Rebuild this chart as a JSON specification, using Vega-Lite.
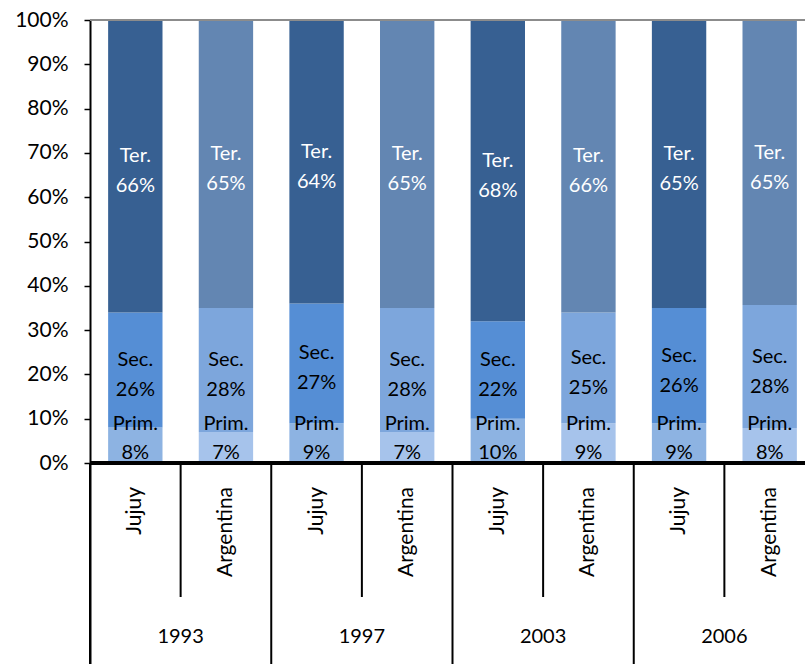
{
  "$schema": "https://vega.github.io/schema/vega-lite/v6.json",
  "autosize": "none",
  "padding": {"left": 90, "top": 20, "right": 0, "bottom": 0},
  "background": "white",
  "width": 715,
  "height": 644,
  "config": {"view": {"stroke": null}, "font": "Lato"},
  "data": {"values": [
    {"year": "1993", "region": "Jujuy", "cat": "1993 Jujuy", "sector": "Prim.", "value": 8, "lab": "Prim.\n8%"},
    {"year": "1993", "region": "Jujuy", "cat": "1993 Jujuy", "sector": "Sec.", "value": 26, "lab": "Sec.\n26%"},
    {"year": "1993", "region": "Jujuy", "cat": "1993 Jujuy", "sector": "Ter.", "value": 66, "lab": "Ter.\n66%"},
    {"year": "1993", "region": "Argentina", "cat": "1993 Argentina", "sector": "Prim.", "value": 7, "lab": "Prim.\n7%"},
    {"year": "1993", "region": "Argentina", "cat": "1993 Argentina", "sector": "Sec.", "value": 28, "lab": "Sec.\n28%"},
    {"year": "1993", "region": "Argentina", "cat": "1993 Argentina", "sector": "Ter.", "value": 65, "lab": "Ter.\n65%"},
    {"year": "1997", "region": "Jujuy", "cat": "1997 Jujuy", "sector": "Prim.", "value": 9, "lab": "Prim.\n9%"},
    {"year": "1997", "region": "Jujuy", "cat": "1997 Jujuy", "sector": "Sec.", "value": 27, "lab": "Sec.\n27%"},
    {"year": "1997", "region": "Jujuy", "cat": "1997 Jujuy", "sector": "Ter.", "value": 64, "lab": "Ter.\n64%"},
    {"year": "1997", "region": "Argentina", "cat": "1997 Argentina", "sector": "Prim.", "value": 7, "lab": "Prim.\n7%"},
    {"year": "1997", "region": "Argentina", "cat": "1997 Argentina", "sector": "Sec.", "value": 28, "lab": "Sec.\n28%"},
    {"year": "1997", "region": "Argentina", "cat": "1997 Argentina", "sector": "Ter.", "value": 65, "lab": "Ter.\n65%"},
    {"year": "2003", "region": "Jujuy", "cat": "2003 Jujuy", "sector": "Prim.", "value": 10, "lab": "Prim.\n10%"},
    {"year": "2003", "region": "Jujuy", "cat": "2003 Jujuy", "sector": "Sec.", "value": 22, "lab": "Sec.\n22%"},
    {"year": "2003", "region": "Jujuy", "cat": "2003 Jujuy", "sector": "Ter.", "value": 68, "lab": "Ter.\n68%"},
    {"year": "2003", "region": "Argentina", "cat": "2003 Argentina", "sector": "Prim.", "value": 9, "lab": "Prim.\n9%"},
    {"year": "2003", "region": "Argentina", "cat": "2003 Argentina", "sector": "Sec.", "value": 25, "lab": "Sec.\n25%"},
    {"year": "2003", "region": "Argentina", "cat": "2003 Argentina", "sector": "Ter.", "value": 66, "lab": "Ter.\n66%"},
    {"year": "2006", "region": "Jujuy", "cat": "2006 Jujuy", "sector": "Prim.", "value": 9, "lab": "Prim.\n9%"},
    {"year": "2006", "region": "Jujuy", "cat": "2006 Jujuy", "sector": "Sec.", "value": 26, "lab": "Sec.\n26%"},
    {"year": "2006", "region": "Jujuy", "cat": "2006 Jujuy", "sector": "Ter.", "value": 65, "lab": "Ter.\n65%"},
    {"year": "2006", "region": "Argentina", "cat": "2006 Argentina", "sector": "Prim.", "value": 8, "lab": "Prim.\n8%"},
    {"year": "2006", "region": "Argentina", "cat": "2006 Argentina", "sector": "Sec.", "value": 28, "lab": "Sec.\n28%"},
    {"year": "2006", "region": "Argentina", "cat": "2006 Argentina", "sector": "Ter.", "value": 65, "lab": "Ter.\n65%"}
  ]},
  "layer": [
    {
      "mark": {"type": "bar", "width": {"band": 0.6}},
      "encoding": {
        "x": {"field": "cat", "type": "nominal", "sort": null,
              "scale": {"paddingInner": 0, "paddingOuter": 0, "rangeMax": 725}, "axis": null},
        "y": {"field": "value", "type": "quantitative", "stack": "normalize",
              "scale": {"domain": [-0.4537, 1], "nice": false, "zero": false},
              "axis": {"title": null, "format": "%", "values": [0, 0.1, 0.2, 0.3, 0.4, 0.5, 0.6, 0.7, 0.8, 0.9, 1],
                       "grid": false, "tickSize": 6, "tickColor": "black", "tickWidth": 1.5,
                       "domainColor": "black", "domainWidth": 2, "labelFontSize": 21, "labelColor": "black",
                       "labelPadding": 16, "labelFont": "Lato"}},
        "detail": {"field": "sector"},
        "order": {"field": "sector", "sort": "ascending"},
        "color": {"condition": [
          {"test": "datum.region === 'Jujuy' && datum.sector === 'Ter.'", "value": "#376092"},
          {"test": "datum.region === 'Jujuy' && datum.sector === 'Sec.'", "value": "#558ED5"},
          {"test": "datum.region === 'Jujuy' && datum.sector === 'Prim.'", "value": "#8DB3E2"},
          {"test": "datum.region === 'Argentina' && datum.sector === 'Ter.'", "value": "#6386B2"},
          {"test": "datum.region === 'Argentina' && datum.sector === 'Sec.'", "value": "#7DA6DC"}
        ], "value": "#A6C3EB"}
      }
    },
    {
      "mark": {"type": "rule", "color": "#8c8c8c", "strokeWidth": 2},
      "encoding": {"y": {"datum": 1, "type": "quantitative"}}
    },
    {
      "mark": {"type": "rule", "color": "black", "strokeWidth": 2.5},
      "encoding": {"y": {"datum": 0, "type": "quantitative"}}
    },
    {
      "mark": {"type": "text", "fontSize": 20, "lineHeight": 30, "baseline": "middle", "align": "center", "lineBreak": "\n", "dy": -10},
      "encoding": {
        "x": {"field": "cat", "type": "nominal", "sort": null},
        "y": {"field": "value", "type": "quantitative", "stack": "normalize", "bandPosition": 0.5},
        "detail": {"field": "sector"},
        "order": {"field": "sector", "sort": "ascending"},
        "text": {"field": "lab"},
        "opacity": {"condition": {"test": "datum.sector === 'Prim.'", "value": 0}, "value": 1},
        "color": {"condition": {"test": "datum.sector === 'Ter.'", "value": "white"}, "value": "black"}
      }
    },
    {
      "transform": [{"filter": "datum.sector === 'Prim.'"}],
      "mark": {"type": "text", "fontSize": 20, "lineHeight": 29, "baseline": "middle", "align": "center", "lineBreak": "\n", "dy": -39, "color": "black"},
      "encoding": {
        "x": {"field": "cat", "type": "nominal", "sort": null},
        "y": {"datum": 0, "type": "quantitative"},
        "text": {"field": "lab"}
      }
    },
    {
      "transform": [{"filter": "datum.sector === 'Ter.'"}],
      "mark": {"type": "text", "angle": 270, "align": "right", "baseline": "middle", "fontSize": 21, "color": "black"},
      "encoding": {
        "x": {"field": "cat", "type": "nominal", "sort": null},
        "y": {"datum": -0.054, "type": "quantitative"},
        "text": {"field": "region"}
      }
    },
    {
      "transform": [{"filter": "datum.sector === 'Ter.' && datum.region === 'Argentina'"}],
      "mark": {"type": "text", "align": "center", "baseline": "middle", "fontSize": 20, "color": "black"},
      "encoding": {
        "x": {"field": "cat", "type": "nominal", "sort": null, "bandPosition": 0},
        "y": {"datum": -0.393, "type": "quantitative"},
        "text": {"field": "year"}
      }
    },
    {
      "transform": [{"filter": "datum.sector === 'Ter.' && datum.region === 'Argentina'"}],
      "mark": {"type": "rule", "color": "black", "strokeWidth": 2},
      "encoding": {
        "x": {"field": "cat", "type": "nominal", "sort": null, "bandPosition": 0},
        "y": {"datum": 0, "type": "quantitative"},
        "y2": {"datum": -0.3025}
      }
    },
    {
      "transform": [{"filter": "datum.sector === 'Ter.' && datum.region === 'Jujuy'"}],
      "mark": {"type": "rule", "color": "black", "strokeWidth": 2},
      "encoding": {
        "x": {"field": "cat", "type": "nominal", "sort": null, "bandPosition": 0},
        "y": {"datum": 0, "type": "quantitative"},
        "y2": {"datum": -0.4537}
      }
    }
  ]
}
